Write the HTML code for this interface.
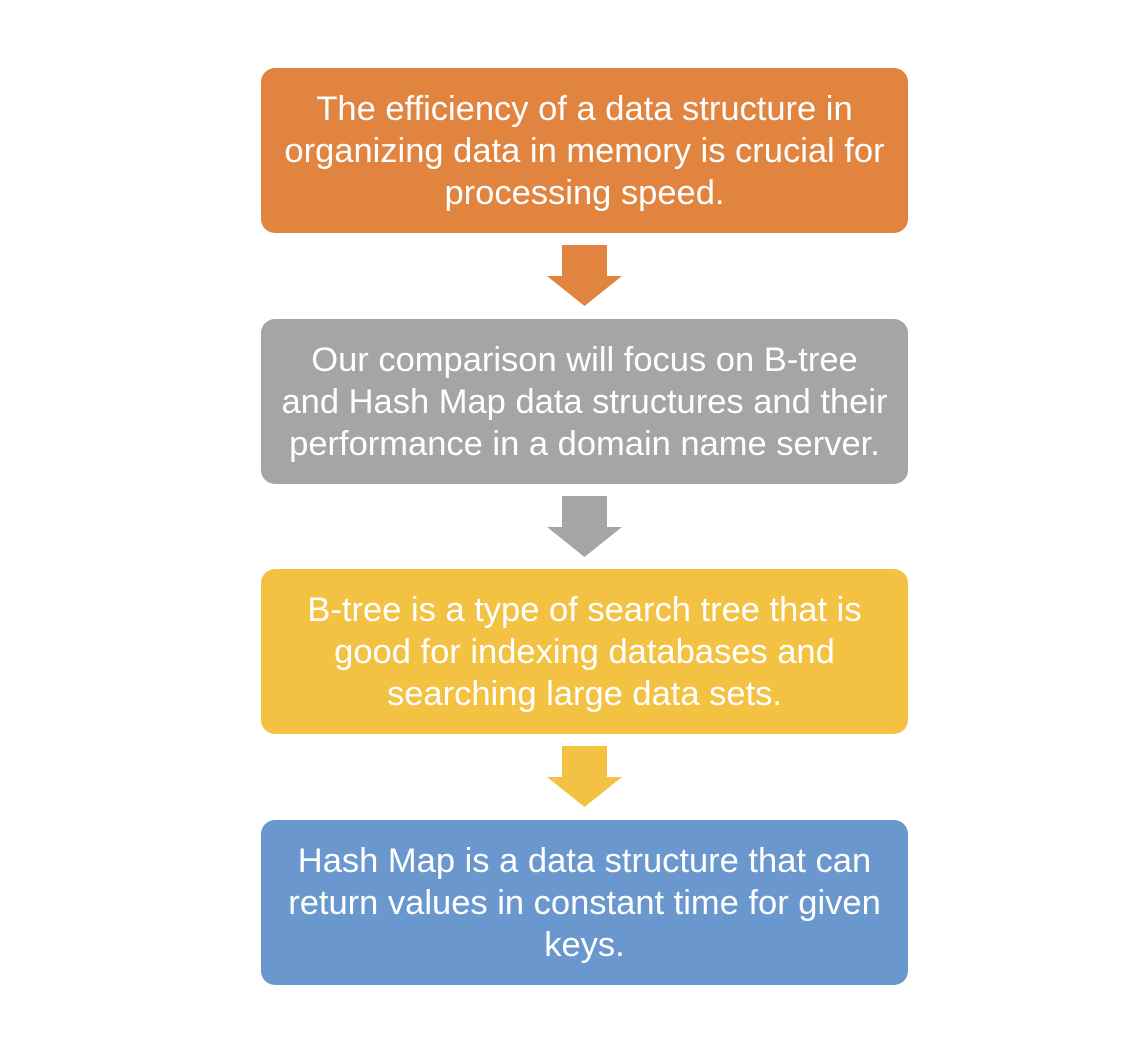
<!DOCTYPE html>
<html><head><style>
body{margin:0;width:1132px;height:1052px;background:#fff;position:relative;font-family:"Liberation Sans",sans-serif;}
.b{position:absolute;left:261px;width:647px;height:165px;border-radius:14px;color:#fff;display:flex;align-items:center;justify-content:center;text-align:center;font-size:34.5px;line-height:42px;box-sizing:border-box;padding:0 2px;white-space:nowrap;}
svg{position:absolute;left:0;top:0}
</style></head><body>
<div class="b" style="top:68px;background:#E0843F">The efficiency of a data structure in<br>organizing data in memory is crucial for<br>processing speed.</div>
<div class="b" style="top:319px;background:#A5A5A5">Our comparison will focus on B-tree<br>and Hash Map data structures and their<br>performance in a domain name server.</div>
<div class="b" style="top:569px;background:#F4C242">B-tree is a type of search tree that is<br>good for indexing databases and<br>searching large data sets.</div>
<div class="b" style="top:820px;background:#6A98CE">Hash Map is a data structure that can<br>return values in constant time for given<br>keys.</div>
<svg width="1132" height="1052">
<polygon points="562,245 607,245 607,276 622,276 584.5,306 547,276 562,276" fill="#E0843F"/>
<polygon points="562,496 607,496 607,527 622,527 584.5,557 547,527 562,527" fill="#A5A5A5"/>
<polygon points="562,746 607,746 607,777 622,777 584.5,807 547,777 562,777" fill="#F4C242"/>
</svg>
</body></html>
